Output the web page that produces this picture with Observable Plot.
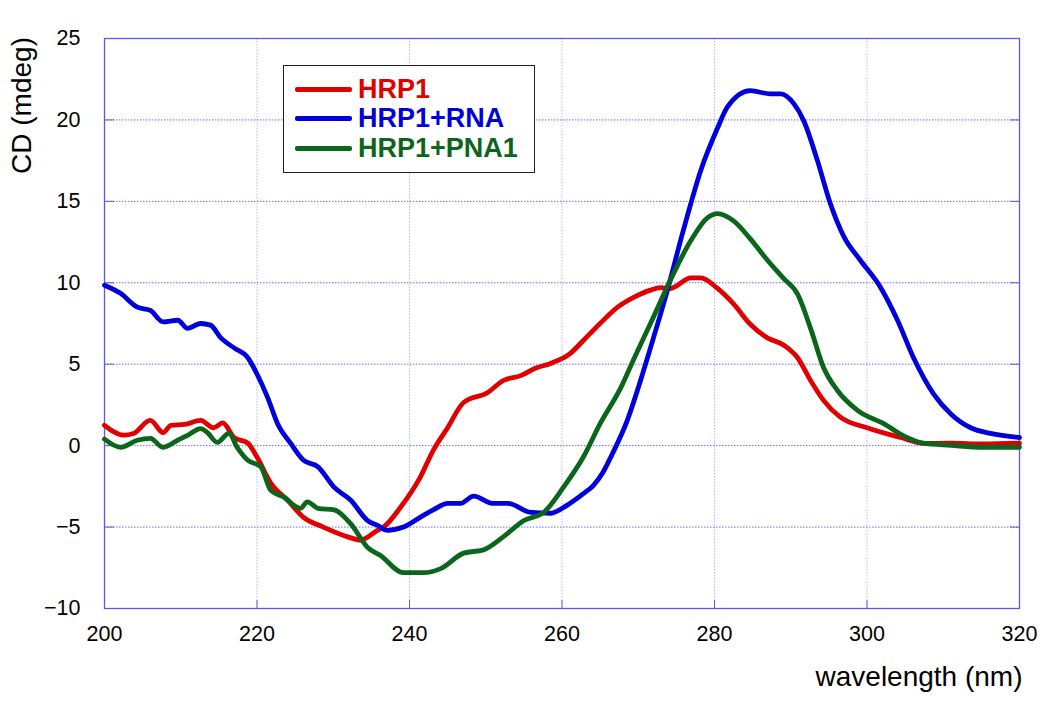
<!DOCTYPE html>
<html>
<head>
<meta charset="utf-8">
<script src="https://cdn.jsdelivr.net/npm/d3@7"></script>
<script src="https://cdn.jsdelivr.net/npm/@observablehq/plot@0.6"></script>
<style>
  html, body { margin: 0; padding: 0; background: #fff; }
  #wrap { position: relative; width: 1050px; height: 702px; font-family: "Liberation Sans", Arial, Helvetica, sans-serif; }
  #wrap svg [aria-label$="tick label"] { font-size: 21.5px; }
  #legend { position: absolute; left: 283px; top: 65px; width: 252px; height: 108px; box-sizing: border-box; border: 1.5px solid #222; background: #fff; }
  .row { position: absolute; left: 0; height: 30px; }
  .sw { position: absolute; left: 11px; width: 57px; height: 4.5px; top: 13px; border-radius: 2px; }
  .lab { position: absolute; left: 74px; top: 0; line-height: 30px; font-weight: bold; font-size: 27px; white-space: nowrap; }
</style>
</head>
<body>
<div id="wrap"></div>
<script>
const seriesNames = ["HRP1", "HRP1+RNA", "HRP1+PNA1"];
const seriesColors = ["#e00000", "#0000dc", "#0b661c"];
const xTicks = [200, 220, 240, 260, 280, 300, 320];
const yTicks = [-10, -5, 0, 5, 10, 15, 20, 25];

const hrp1Wl = [200,202.5,203.8,206,207.7,208.7,210.5,212.6,214.3,215.5,217,218.8,220,221.8,224,226.1,228.7,231.9,233.6,235.8,236.6,238.8,241.4,243.1,245,247.1,250.2,252.3,254.6,256.5,258.5,261.1,262.8,265,267.3,269.4,271.6,272.9,274.2,276.9,278.2,280.4,282.5,284.7,287,289,290.9,292.6,294.3,296.5,300,304.4,307.4,311,315.3,320];
const hrp1Cd = [1.25,0.65,0.75,1.55,0.8,1.25,1.3,1.55,1.1,1.4,0.5,0.15,-0.7,-2.3,-3.35,-4.4,-5.0,-5.6,-5.8,-5.2,-5.0,-3.8,-1.95,-0.3,1.1,2.65,3.25,4.0,4.3,4.75,5.05,5.67,6.46,7.5,8.5,9.1,9.55,9.7,9.65,10.3,10.3,9.65,8.7,7.45,6.6,6.2,5.4,4.0,2.78,1.75,1.1,0.5,0.14,0.15,0.1,0.15];

const rnaWl = [200,202.1,204.3,206,207.7,209.6,210.9,212.6,213.9,215.2,217,218.8,220,221.4,222.7,224.4,226.1,228,230.1,232.3,234.5,235.8,237.1,239.2,241.4,243.1,245,246.7,248.4,251,252.9,255.9,258.5,260.7,262.8,264.1,265.3,266.4,268.6,270.3,271.6,273.8,275.9,278.2,280.4,281.7,284.7,287.3,288.7,290.4,291.7,293.5,295.2,297,299.1,301.8,304,306.1,308.7,311,313.6,316.2,320];
const rnaCd = [9.85,9.35,8.5,8.3,7.6,7.7,7.2,7.5,7.4,6.65,6.0,5.4,4.4,2.95,1.35,0.15,-0.9,-1.3,-2.55,-3.35,-4.6,-4.9,-5.2,-5.0,-4.4,-3.95,-3.55,-3.55,-3.1,-3.55,-3.55,-4.1,-4.15,-3.65,-2.95,-2.45,-1.7,-0.7,1.6,4.0,6.0,9.5,13.2,16.9,19.5,20.8,21.8,21.6,21.6,21.0,19.95,17.5,14.85,12.8,11.4,9.7,7.7,5.4,3.2,1.95,1.1,0.75,0.5];

const pnaWl = [200,202.1,204.3,206,207.7,209.6,210.9,212.6,213.5,214.8,216.3,217.4,218.8,220.5,221.8,223.5,225.7,226.6,228,230.1,232.3,234.5,236.2,239.2,241.8,244.1,247.1,249.7,252.3,255,257.6,260.2,262.8,265,267.7,269.5,271.6,274.2,276.9,279.1,280.4,282.5,284.7,287,289,290.9,292.6,294.3,296.1,298.8,302.2,304.8,307.4,311,315.3,320];
const pnaCd = [0.4,-0.1,0.33,0.45,-0.1,0.33,0.63,1.05,0.8,0.2,0.75,-0.1,-0.9,-1.3,-2.75,-3.15,-3.85,-3.45,-3.85,-3.95,-4.8,-6.25,-6.75,-7.8,-7.8,-7.55,-6.6,-6.4,-5.6,-4.6,-4.1,-2.55,-0.7,1.35,3.55,5.4,7.5,10.15,12.6,14.0,14.25,13.8,12.7,11.35,10.3,9.3,7.2,4.8,3.4,2.15,1.35,0.6,0.15,0.02,-0.1,-0.1];

const table = [];
[[hrp1Wl, hrp1Cd], [rnaWl, rnaCd], [pnaWl, pnaCd]].forEach(([wl, cd], i) => {
  wl.forEach((w, j) => table.push({series: seriesNames[i], wl: w, cd: cd[j]}));
});

const font = '"Liberation Sans", Arial, Helvetica, sans-serif';

const chart = Plot.plot({
  width: 1050,
  height: 702,
  marginTop: 38,
  marginRight: 31,
  marginBottom: 94,
  marginLeft: 104,
  style: { fontFamily: font, fontSize: "21px", color: "#000", background: "#fff" },
  x: { domain: [200, 320] },
  y: { domain: [-10, 25] },
  color: { domain: seriesNames, range: seriesColors },
  marks: [
    Plot.gridX(xTicks, { stroke: "#b8b8ff", strokeOpacity: 1, strokeDasharray: "1.5,1.5", strokeWidth: 1 }),
    Plot.gridY(yTicks, { stroke: "#6a6af0", strokeOpacity: 1, strokeDasharray: "1.5,1.5", strokeWidth: 1 }),
    Plot.axisY(yTicks, { anchor: "left", tickSize: 10, dx: 10, stroke: "#5a5aea", tickFormat: () => "", label: null }),
    Plot.axisY(yTicks, { anchor: "right", tickSize: 10, dx: -10, stroke: "#5a5aea", tickFormat: () => "", label: null }),
    Plot.axisX(xTicks, { anchor: "bottom", tickSize: 8, dy: -8, stroke: "#5a5aea", tickFormat: () => "", label: null }),
    Plot.axisX(xTicks, { anchor: "bottom", tickSize: 0, tickPadding: 17, label: null }),
    Plot.axisY(yTicks, { anchor: "left", tickSize: 0, tickPadding: 24, label: null }),
    Plot.frame({ stroke: "#5a5aea", strokeWidth: 1.3 }),
    Plot.line(table, { x: "wl", y: "cd", z: "series", stroke: "series", strokeWidth: 4.8, curve: "monotone-x", strokeLinejoin: "round", strokeLinecap: "round" }),
    Plot.text(["wavelength (nm)"], { frameAnchor: "bottom-right", textAnchor: "end", lineAnchor: "middle", dx: 3, dy: 69, fontSize: 28, fill: "#000" }),
    Plot.text(["CD (mdeg)"], { frameAnchor: "top-left", textAnchor: "middle", lineAnchor: "middle", rotate: -90, dx: -82, dy: 67, fontSize: 28, fill: "#000" })
  ]
});

const wrap = document.getElementById("wrap");
wrap.appendChild(chart);

const legend = document.createElement("div");
legend.id = "legend";
const rowTops = [8, 37, 67];
seriesNames.forEach((name, i) => {
  const row = document.createElement("div");
  row.className = "row";
  row.style.top = rowTops[i] + "px";
  row.style.width = "100%";
  const sw = document.createElement("div");
  sw.className = "sw";
  sw.style.background = seriesColors[i];
  const lab = document.createElement("div");
  lab.className = "lab";
  lab.style.color = seriesColors[i];
  lab.textContent = name;
  row.appendChild(sw);
  row.appendChild(lab);
  legend.appendChild(row);
});
wrap.appendChild(legend);
</script>
</body>
</html>
